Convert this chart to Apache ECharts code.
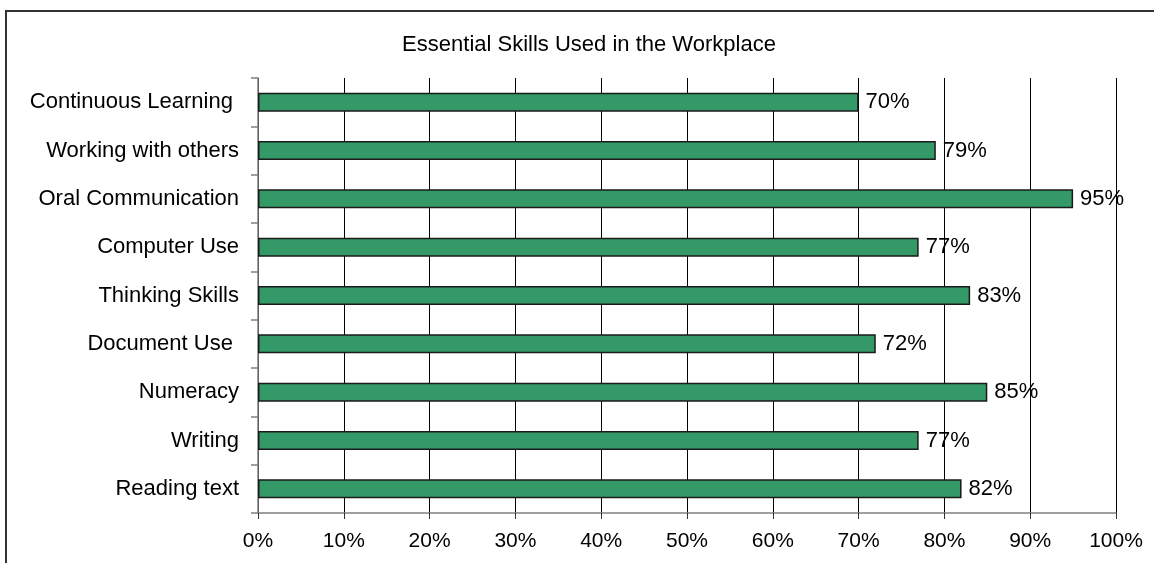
<!DOCTYPE html>
<html>
<head>
<meta charset="utf-8">
<script src="https://cdn.jsdelivr.net/npm/echarts@6/dist/echarts.min.js"></script>
<style>
  html, body { margin: 0; padding: 0; background: #fff; }
  #chart { width: 1154px; height: 563px; }
</style>
</head>
<body>
<div id="chart"></div>
<script>
// Skills listed bottom-to-top (category axis starts at the bottom)
const skills = ['Reading text', 'Writing', 'Numeracy', 'Document Use ', 'Thinking Skills',
  'Computer Use', 'Oral Communication', 'Working with others', 'Continuous Learning '];
// Share of workers using each skill, in percent
const usage = [82, 77, 85, 72, 83, 77, 95, 79, 70];
const percentTicks = [0, 10, 20, 30, 40, 50, 60, 70, 80, 90, 100];

const FONT = '"Liberation Sans", Arial, sans-serif';

const chart = echarts.init(document.getElementById('chart'), null, { renderer: 'canvas' });
chart.setOption({
  backgroundColor: '#ffffff',
  animation: false,
  graphic: [{
    type: 'rect',
    shape: { x: 6, y: 11, width: 1300, height: 700 },
    style: { fill: 'none', stroke: '#333333', lineWidth: 2 },
    silent: true
  }],
  title: {
    text: 'Essential Skills Used in the Workplace',
    left: 584,
    top: 29,
    textAlign: 'center',
    textStyle: { fontFamily: FONT, fontSize: 22, fontWeight: 'normal', color: '#000' }
  },
  grid: { left: 258, right: 38, top: 78, bottom: 50, containLabel: false },
  xAxis: {
    type: 'value',
    min: percentTicks[0],
    max: percentTicks[percentTicks.length - 1],
    interval: 10,
    axisLine: { show: true, lineStyle: { color: '#808080', width: 1.5 } },
    axisTick: { show: true, length: 6, lineStyle: { color: '#333333', width: 1 } },
    splitLine: { show: true, lineStyle: { color: '#000000', width: 1 } },
    axisLabel: {
      margin: 18,
      formatter: v => v + '%',
      fontFamily: FONT, fontSize: 21, color: '#000'
    }
  },
  yAxis: {
    type: 'category',
    data: skills,
    axisLine: { show: true, lineStyle: { color: '#808080', width: 1.5 } },
    axisTick: { show: true, length: 7, lineStyle: { color: '#808080', width: 1.5 } },
    splitLine: { show: false },
    axisLabel: { margin: 19, fontFamily: FONT, fontSize: 22, color: '#000' }
  },
  series: [{
    type: 'bar',
    data: usage,
    barWidth: 19,
    itemStyle: { color: '#339966', borderColor: '#1a1a1a', borderWidth: 1.5 },
    label: {
      show: true,
      position: 'right',
      distance: 7,
      formatter: p => p.value + '%',
      fontFamily: FONT, fontSize: 22, color: '#000'
    }
  }]
});
</script>
</body>
</html>
